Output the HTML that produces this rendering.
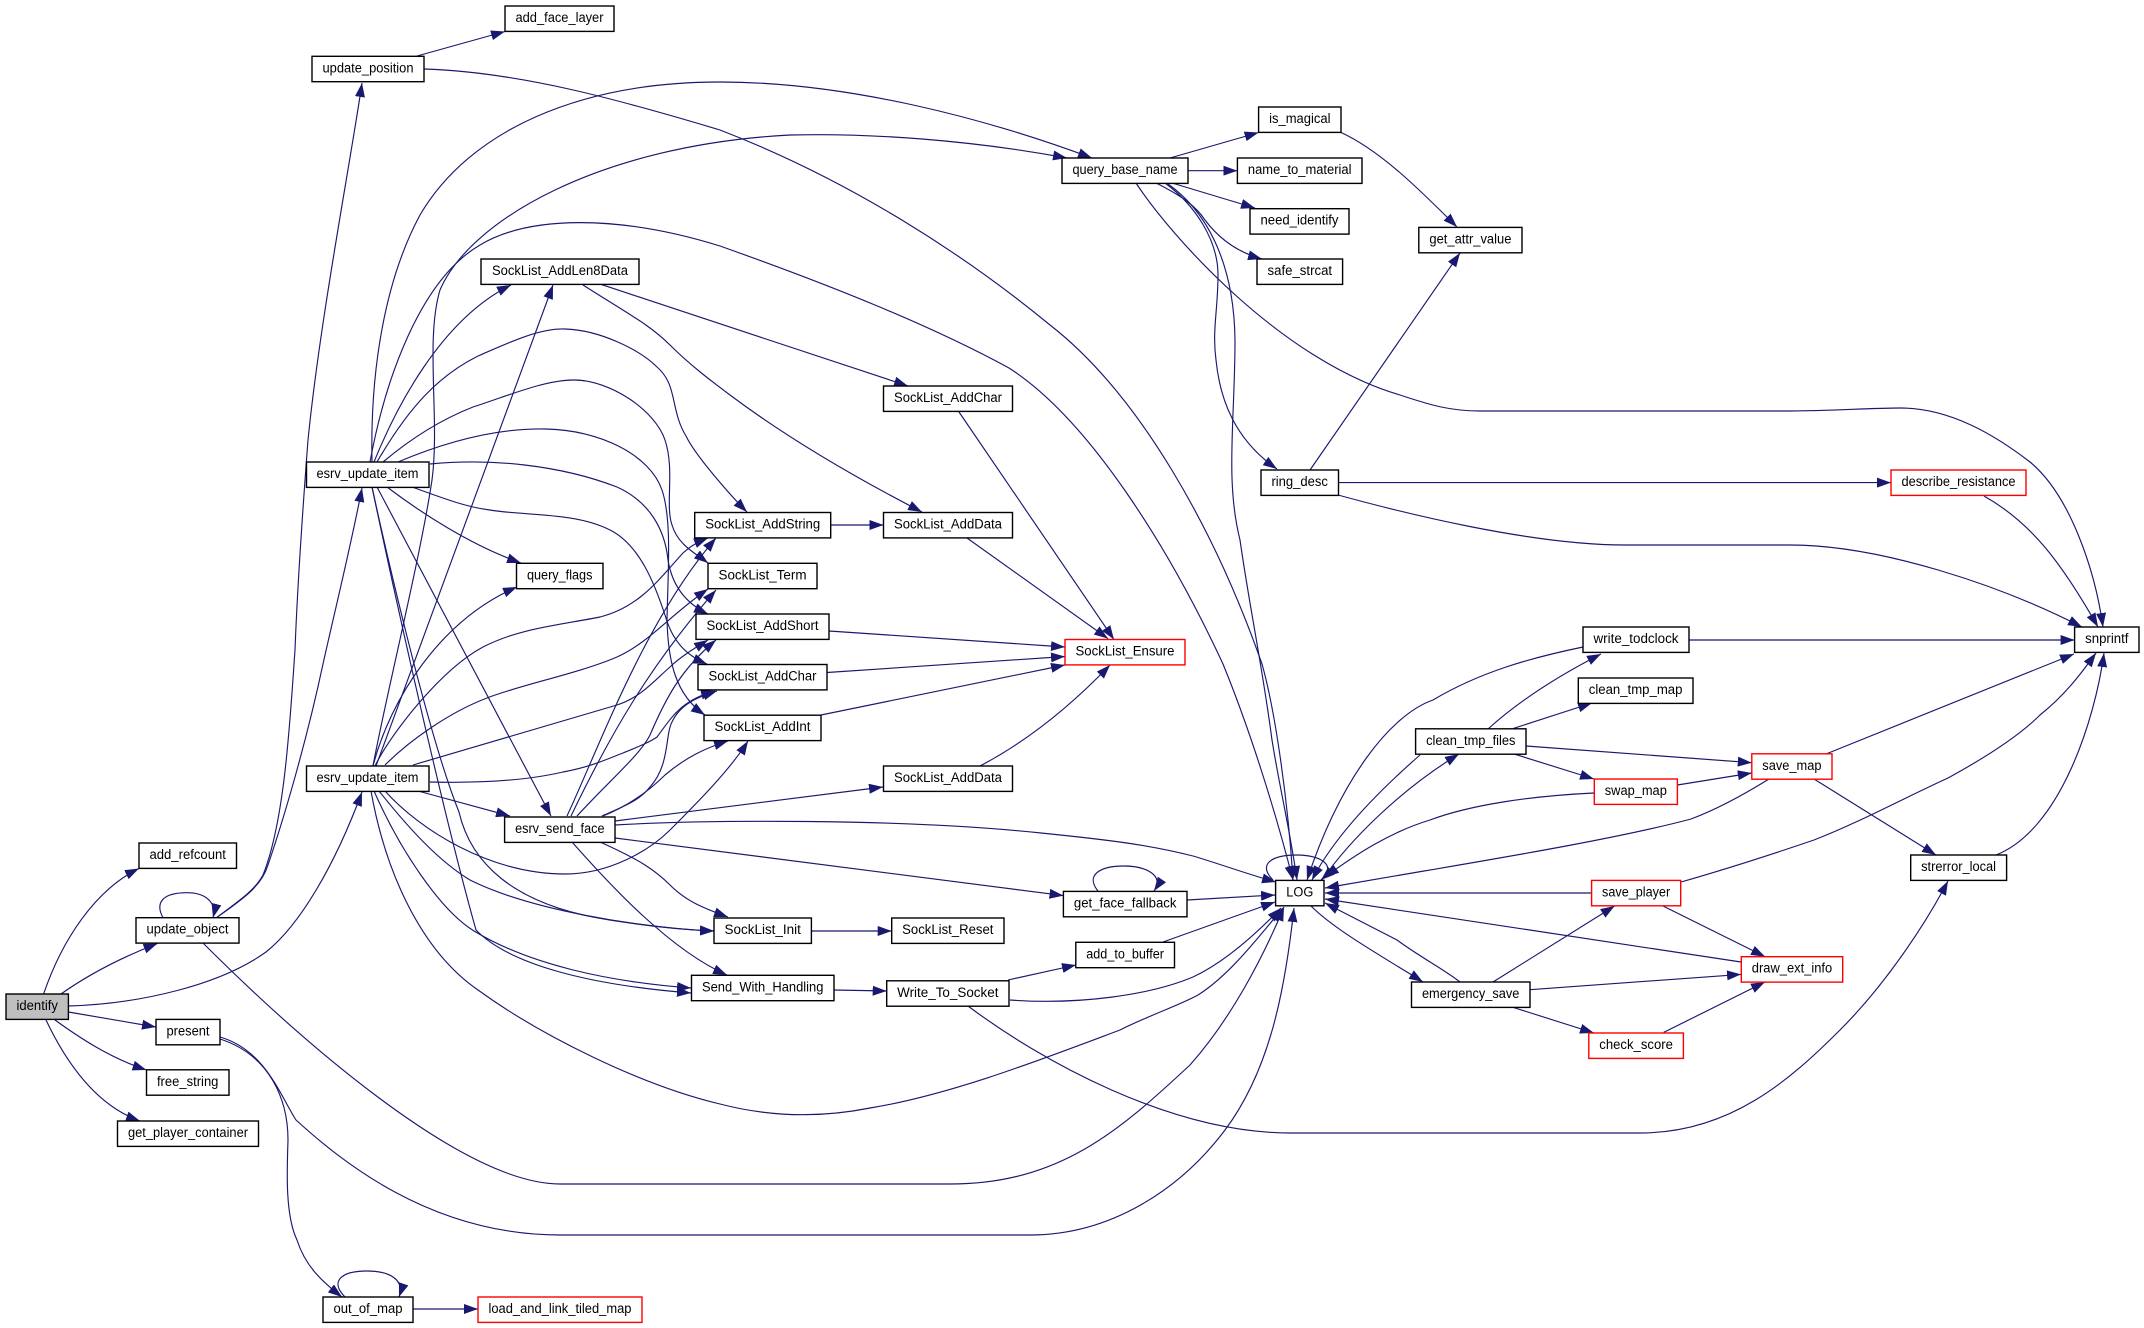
<!DOCTYPE html>
<html><head><meta charset="utf-8"><style>
html,body{margin:0;padding:0;background:#fff}
svg{display:block}
path{fill:none;stroke:#191970;stroke-width:1.15;marker-end:url(#a)}
rect{fill:#fff;stroke:#000;stroke-width:1.4}
rect.r{stroke:#f00}
rect.g{fill:#bfbfbf}
text{font-family:"Liberation Sans",sans-serif;font-size:13.5px;fill:#000;text-anchor:middle;transform:translateY(-1px)}
</style></head><body>
<svg xmlns="http://www.w3.org/2000/svg" width="2144" height="1328" viewBox="0 0 2144 1328">
<defs><marker id="a" markerUnits="userSpaceOnUse" markerWidth="15" markerHeight="11" refX="14" refY="5" orient="auto"><polygon points="0,0 14,5 0,10" fill="#191970"/></marker></defs>
<g>
<path d="M43.6,994C62,940 95,890 139,868.5"/>
<path d="M61,994C85,977 115,960 157.5,943.5"/>
<path d="M68,1006C140,1004 220,985 266,952C300,925 335,865 362,792"/>
<path d="M68.4,1012L156,1027"/>
<path d="M55,1020C80,1038 110,1058 146.5,1070"/>
<path d="M46,1020C65,1060 95,1105 140,1121"/>
<path d="M163,917.7C155,903 162,892.7 187,892.7C205,892.7 217,902 213,917.7"/>
<path d="M216,918C240,900 255,890 263,875C285,820 290,720 295,650C298,570 305,480 308,440C320,320 350,165 362,83"/>
<path d="M216,918C245,898 262,885 268,865C290,800 310,725 323,664C335,610 350,550 362,488"/>
<path d="M203,943C290,1030 460,1184 560,1184L950,1184C1060,1184 1120,1130 1190,1065C1230,1020 1262,960 1284,907"/>
<path d="M220,1037C265,1050 280,1095 296,1120C340,1160 430,1235 560,1235L1030,1235C1110,1235 1180,1190 1225,1130C1270,1070 1285,990 1294,908"/>
<path d="M220,1039C270,1055 288,1100 288,1140C287,1170 285,1215 297,1240C305,1265 320,1280 342,1297"/>
<path d="M345,1297C330,1282 340,1271 367,1271C390,1271 405,1280 399,1297"/>
<path d="M413,1309L478,1309"/>
<path d="M417,56L505,31.5"/>
<path d="M424,69C520,72 620,100 720,130C850,180 965,255 1050,325C1140,395 1215,530 1262,664C1275,710 1288,800 1293,880"/>
<path d="M1168,184C1205,210 1234,260 1235,340C1235,420 1225,480 1240,540C1250,610 1262,664 1272,740C1280,790 1290,830 1297,880"/>
<path d="M370,462C385,380 420,280 480,245C530,215 620,215 720,246C830,285 930,325 1009,368C1090,420 1170,550 1223,664C1250,730 1275,810 1293,880"/>
<path d="M372,462C370,370 385,280 420,215C470,130 580,82 720,82C850,82 990,120 1092,158"/>
<path d="M373,766C385,700 420,560 432,480C440,420 425,340 440,290C470,220 600,145 790,135C870,133 970,140 1067,158"/>
<path d="M374,462C395,410 440,320 511,285"/>
<path d="M376,766L553,285"/>
<path d="M601.6,284.6L908,386"/>
<path d="M583,285C630,315 650,325 670,345C690,365 710,380 730,395C790,440 860,480 922,512"/>
<path d="M377,462C410,405 440,375 478,356C510,342 540,328 565,329C600,330 640,350 657,367C678,385 670,410 686,436C695,455 730,495 747,512"/>
<path d="M383,462C415,435 445,418 473,407C510,395 545,380 574,380C610,380 655,410 665,440C675,470 665,505 672,525C678,545 695,553 708,563"/>
<path d="M430,464C490,458 560,465 617,487C650,502 665,530 668,560C672,585 685,603 708,614"/>
<path d="M398,462C450,440 500,428 546,429C600,430 650,455 662,490C672,520 668,570 667,620C668,660 675,695 705,715"/>
<path d="M412,487C440,497 465,507 490,510C525,516 575,512 610,530C640,545 655,585 665,615C672,640 685,655 707,664"/>
<path d="M387,487C420,512 470,545 521,563"/>
<path d="M373,766C390,700 440,620 517,587"/>
<path d="M377,487L551,816"/>
<path d="M372,487C390,570 430,740 459,812C470,860 510,905 610,920C650,926 685,930 714,931"/>
<path d="M372,487C400,620 445,820 476,930C510,965 590,985 691,993"/>
<path d="M375,766C390,735 440,670 483,647C520,628 560,625 600,617C640,607 660,578 683,553C692,545 698,542 708,538"/>
<path d="M385,765C410,740 450,712 487,698C520,685 580,673 617,657C650,642 670,615 708,589"/>
<path d="M413,765L617,705C640,698 655,680 670,667C680,657 695,648 708,640"/>
<path d="M430,782C470,783 520,782 563,772C590,767 605,760 623,753C640,746 650,742 657,737C670,720 680,700 715,691"/>
<path d="M418,791L510,816"/>
<path d="M385,791C420,830 490,874 565,874C610,874 650,850 670,830C695,805 730,770 748,741"/>
<path d="M379,791C410,830 440,862 470,880C530,910 640,928 714,931"/>
<path d="M374,791C400,850 440,910 474,931C530,965 610,982 691,988"/>
<path d="M371,791C385,870 420,950 478,990C540,1035 640,1085 720,1104C770,1117 820,1118 870,1108C950,1095 1040,1060 1120,1030C1150,1015 1180,1005 1198,995C1230,975 1260,935 1283,908"/>
<path d="M567,816C600,745 645,620 716,538"/>
<path d="M571,816C610,735 650,665 716,590"/>
<path d="M577,816C610,780 640,755 650,735C665,700 680,670 716,640"/>
<path d="M602,816C625,806 640,800 650,787C670,765 665,735 672,722C680,705 695,698 717,691"/>
<path d="M603,816C630,805 650,790 665,775C685,758 705,748 728,741"/>
<path d="M615,821L883,787"/>
<path d="M615,825C700,820 900,818 1041,833C1110,840 1150,845 1193,856C1220,864 1250,875 1276,882"/>
<path d="M615,838L1063.5,895.6"/>
<path d="M600,842C640,860 655,870 670,885C685,900 700,907 728,917"/>
<path d="M572,842C610,885 670,950 727,975"/>
<path d="M959,412L1114,639.5"/>
<path d="M967,538L1108,638.6"/>
<path d="M831,525L883.5,525"/>
<path d="M829,631L1065,647"/>
<path d="M827,672.5L1065,656.5"/>
<path d="M821,715L1065,665"/>
<path d="M980,766C1020,745 1065,712 1110,665"/>
<path d="M811,931L891.7,931"/>
<path d="M834,990L886.7,991"/>
<path d="M1008,980L1076,965"/>
<path d="M1010,1000C1080,1005 1150,995 1193,977C1225,962 1255,935 1281,908"/>
<path d="M968,1006C1040,1060 1170,1133 1290,1133L1640,1133C1730,1133 1790,1080 1840,1030C1885,985 1925,925 1948,881"/>
<path d="M1098,891C1085,875 1100,866 1124,866C1145,866 1165,875 1154,891"/>
<path d="M1187,900L1275,895"/>
<path d="M1163,942L1275,902"/>
<path d="M1273,880C1258,865 1270,855 1297,855C1320,855 1338,865 1321,880"/>
<path d="M1170,158L1258.6,132.5"/>
<path d="M1188,170.7L1237.4,170.7"/>
<path d="M1172,183L1255,208"/>
<path d="M1156,183C1180,195 1195,205 1205,220C1220,240 1240,253 1262,259"/>
<path d="M1165,183C1195,205 1218,240 1218,275C1218,310 1212,330 1216,360C1220,400 1235,440 1277,469"/>
<path d="M1136,183C1170,235 1280,360 1400,395C1430,405 1450,411 1480,411L1790,411C1830,411 1870,408 1900,408C1950,408 1995,435 2030,462C2070,495 2095,570 2103,627"/>
<path d="M1340,132C1380,150 1420,190 1457,227"/>
<path d="M1310,470L1460,253"/>
<path d="M1338.5,482.6L1891,482.6"/>
<path d="M1338,495C1400,512 1530,545 1625,545L1790,545C1880,545 2000,585 2082,627"/>
<path d="M1984,496C2030,522 2060,560 2098,627"/>
<path d="M1689,640L2074.6,640"/>
<path d="M1583,647C1530,658 1480,672 1433,700C1390,715 1340,780 1307,880"/>
<path d="M1488,729C1520,700 1560,675 1601,654"/>
<path d="M1513.5,728.4L1592,703"/>
<path d="M1526,746L1751.8,762.7"/>
<path d="M1513.5,753.8L1594,779"/>
<path d="M1420,755C1380,790 1335,835 1312,880"/>
<path d="M1322,880C1350,840 1400,790 1459,754"/>
<path d="M1677.4,785L1751.8,773"/>
<path d="M1594,793C1530,796 1470,805 1430,820C1390,832 1355,855 1325,877"/>
<path d="M1769,779C1740,797 1715,810 1691,819C1620,838 1500,858 1424,871L1325,888"/>
<path d="M1826,754L2074,654"/>
<path d="M1814,779L1936,855"/>
<path d="M1996,855C2060,830 2095,720 2104,653"/>
<path d="M1681,882C1730,868 1770,855 1814,840C1860,822 1900,800 1948,778C1990,755 2020,735 2040,715C2065,695 2080,675 2096,653"/>
<path d="M1591.6,893L1325,893"/>
<path d="M1663,906L1765,956.6"/>
<path d="M1741,962L1325,899"/>
<path d="M1460,982C1445,970 1420,957 1397,940L1325,903"/>
<path d="M1311,906C1335,930 1380,955 1423,982"/>
<path d="M1493,982L1614.6,906"/>
<path d="M1530,989.7L1741,974.4"/>
<path d="M1513.5,1007.5L1594,1033"/>
<path d="M1663.7,1032.4L1765,982"/>
</g>
<g>
<rect class="g" x="6" y="994" width="62.4" height="25.4"/><text x="37.2" y="1011" textLength="41.4" lengthAdjust="spacingAndGlyphs">identify</text>
<rect x="139" y="843" width="97.5" height="25.4"/><text x="187.7" y="860" textLength="76.5" lengthAdjust="spacingAndGlyphs">add_refcount</text>
<rect x="136" y="917.7" width="103" height="25.4"/><text x="187.5" y="934.7" textLength="82" lengthAdjust="spacingAndGlyphs">update_object</text>
<rect x="156" y="1019.4" width="64" height="25.4"/><text x="188" y="1036.4" textLength="43" lengthAdjust="spacingAndGlyphs">present</text>
<rect x="146.5" y="1069.8" width="82.5" height="25.4"/><text x="187.7" y="1086.8" textLength="61.5" lengthAdjust="spacingAndGlyphs">free_string</text>
<rect x="117.5" y="1121" width="141" height="25.4"/><text x="188" y="1138" textLength="120" lengthAdjust="spacingAndGlyphs">get_player_container</text>
<rect x="312" y="56.3" width="112" height="25.4"/><text x="368" y="73.3" textLength="91" lengthAdjust="spacingAndGlyphs">update_position</text>
<rect x="505" y="6" width="109" height="25.4"/><text x="559.5" y="23" textLength="88" lengthAdjust="spacingAndGlyphs">add_face_layer</text>
<rect x="481" y="259" width="158" height="25.4"/><text x="560" y="276" textLength="136" lengthAdjust="spacingAndGlyphs">SockList_AddLen8Data</text>
<rect x="306.5" y="462" width="122.5" height="25.4"/><text x="367.5" y="479" textLength="102" lengthAdjust="spacingAndGlyphs">esrv_update_item</text>
<rect x="306.5" y="766" width="122.5" height="25.4"/><text x="367.5" y="783" textLength="102" lengthAdjust="spacingAndGlyphs">esrv_update_item</text>
<rect x="516.5" y="563.3" width="86.5" height="25.4"/><text x="559.7" y="580.3" textLength="65.5" lengthAdjust="spacingAndGlyphs">query_flags</text>
<rect x="504.6" y="817" width="110.4" height="25.4"/><text x="559.8" y="834" textLength="89.4" lengthAdjust="spacingAndGlyphs">esrv_send_face</text>
<rect x="323" y="1297" width="90" height="25.4"/><text x="368" y="1314" textLength="69" lengthAdjust="spacingAndGlyphs">out_of_map</text>
<rect class="r" x="478" y="1297" width="164" height="25.4"/><text x="560" y="1314" textLength="143" lengthAdjust="spacingAndGlyphs">load_and_link_tiled_map</text>
<rect x="694.7" y="512.5" width="136" height="25.4"/><text x="762.7" y="529.5" textLength="115" lengthAdjust="spacingAndGlyphs">SockList_AddString</text>
<rect x="708" y="563.3" width="109" height="25.4"/><text x="762.5" y="580.3" textLength="88" lengthAdjust="spacingAndGlyphs">SockList_Term</text>
<rect x="696" y="614" width="133" height="25.4"/><text x="762.5" y="631" textLength="112" lengthAdjust="spacingAndGlyphs">SockList_AddShort</text>
<rect x="698" y="664.5" width="129" height="25.4"/><text x="762.5" y="681.5" textLength="108" lengthAdjust="spacingAndGlyphs">SockList_AddChar</text>
<rect x="704" y="715.2" width="117" height="25.4"/><text x="762.5" y="732.2" textLength="96" lengthAdjust="spacingAndGlyphs">SockList_AddInt</text>
<rect x="714" y="918" width="97.4" height="25.4"/><text x="762.7" y="935" textLength="76.4" lengthAdjust="spacingAndGlyphs">SockList_Init</text>
<rect x="691.5" y="975.3" width="142.5" height="25.4"/><text x="762.7" y="992.3" textLength="121.5" lengthAdjust="spacingAndGlyphs">Send_With_Handling</text>
<rect x="883.5" y="386" width="129" height="25.4"/><text x="948" y="403" textLength="108" lengthAdjust="spacingAndGlyphs">SockList_AddChar</text>
<rect x="883.5" y="512.5" width="129" height="25.4"/><text x="948" y="529.5" textLength="108" lengthAdjust="spacingAndGlyphs">SockList_AddData</text>
<rect x="883.5" y="766" width="129" height="25.4"/><text x="948" y="783" textLength="108" lengthAdjust="spacingAndGlyphs">SockList_AddData</text>
<rect x="891.7" y="918" width="112.3" height="25.4"/><text x="947.8" y="935" textLength="91.3" lengthAdjust="spacingAndGlyphs">SockList_Reset</text>
<rect x="886.7" y="980.8" width="122.3" height="25.4"/><text x="947.8" y="997.8" textLength="101.3" lengthAdjust="spacingAndGlyphs">Write_To_Socket</text>
<rect x="1062" y="158" width="126" height="25.4"/><text x="1125" y="175" textLength="105" lengthAdjust="spacingAndGlyphs">query_base_name</text>
<rect class="r" x="1065" y="639.5" width="120" height="25.4"/><text x="1125" y="656.5" textLength="99" lengthAdjust="spacingAndGlyphs">SockList_Ensure</text>
<rect x="1063.4" y="891.4" width="123.6" height="25.4"/><text x="1125.2" y="908.4" textLength="102.6" lengthAdjust="spacingAndGlyphs">get_face_fallback</text>
<rect x="1075.8" y="942.3" width="98.7" height="25.4"/><text x="1125.1" y="959.3" textLength="77.7" lengthAdjust="spacingAndGlyphs">add_to_buffer</text>
<rect x="1258.6" y="107" width="82.4" height="25.4"/><text x="1299.8" y="124" textLength="61.4" lengthAdjust="spacingAndGlyphs">is_magical</text>
<rect x="1237.4" y="158" width="124.6" height="25.4"/><text x="1299.7" y="175" textLength="103.6" lengthAdjust="spacingAndGlyphs">name_to_material</text>
<rect x="1250" y="208.7" width="99" height="25.4"/><text x="1299.5" y="225.7" textLength="78" lengthAdjust="spacingAndGlyphs">need_identify</text>
<rect x="1257" y="259" width="85.6" height="25.4"/><text x="1299.8" y="276" textLength="64.6" lengthAdjust="spacingAndGlyphs">safe_strcat</text>
<rect x="1261" y="470" width="77.5" height="25.4"/><text x="1299.7" y="487" textLength="56.5" lengthAdjust="spacingAndGlyphs">ring_desc</text>
<rect x="1275.6" y="880.4" width="48.4" height="25.4"/><text x="1299.8" y="897.4" textLength="27" lengthAdjust="spacingAndGlyphs">LOG</text>
<rect x="1418.8" y="227.4" width="103.2" height="25.4"/><text x="1470.4" y="244.4" textLength="82" lengthAdjust="spacingAndGlyphs">get_attr_value</text>
<rect x="1415.6" y="728.8" width="110.4" height="25.4"/><text x="1470.8" y="745.8" textLength="89.4" lengthAdjust="spacingAndGlyphs">clean_tmp_files</text>
<rect x="1411.5" y="982" width="118.5" height="25.4"/><text x="1470.7" y="999" textLength="97.5" lengthAdjust="spacingAndGlyphs">emergency_save</text>
<rect x="1583" y="627" width="106" height="25.4"/><text x="1636" y="644" textLength="85" lengthAdjust="spacingAndGlyphs">write_todclock</text>
<rect x="1578.3" y="678" width="114.7" height="25.4"/><text x="1635.6" y="695" textLength="93.7" lengthAdjust="spacingAndGlyphs">clean_tmp_map</text>
<rect class="r" x="1594.3" y="779" width="83.1" height="25.4"/><text x="1635.8" y="796" textLength="62.1" lengthAdjust="spacingAndGlyphs">swap_map</text>
<rect class="r" x="1591.6" y="880.4" width="89.1" height="25.4"/><text x="1636.1" y="897.4" textLength="68.1" lengthAdjust="spacingAndGlyphs">save_player</text>
<rect class="r" x="1588.8" y="1033" width="94.6" height="25.4"/><text x="1636.1" y="1050" textLength="73.6" lengthAdjust="spacingAndGlyphs">check_score</text>
<rect class="r" x="1751.8" y="753.8" width="80.2" height="25.4"/><text x="1791.9" y="770.8" textLength="59.2" lengthAdjust="spacingAndGlyphs">save_map</text>
<rect class="r" x="1741.3" y="956.7" width="101.4" height="25.4"/><text x="1792" y="973.7" textLength="80.4" lengthAdjust="spacingAndGlyphs">draw_ext_info</text>
<rect class="r" x="1891" y="470" width="135" height="25.4"/><text x="1958.5" y="487" textLength="114" lengthAdjust="spacingAndGlyphs">describe_resistance</text>
<rect x="1910.7" y="855" width="95.9" height="25.4"/><text x="1958.6" y="872" textLength="74.9" lengthAdjust="spacingAndGlyphs">strerror_local</text>
<rect x="2074.6" y="627" width="64.4" height="25.4"/><text x="2106.8" y="644" textLength="43.4" lengthAdjust="spacingAndGlyphs">snprintf</text>
</g>
</svg>
</body></html>
